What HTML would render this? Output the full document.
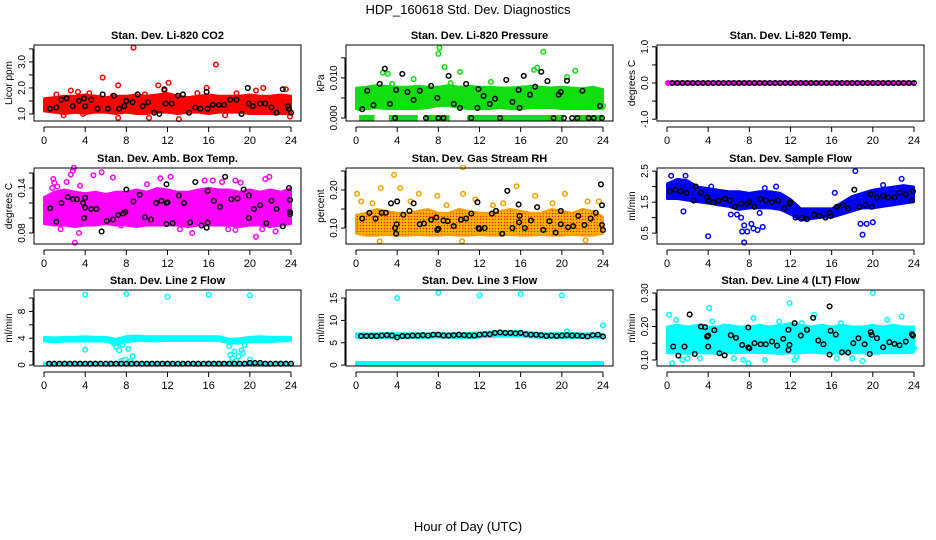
<!DOCTYPE html>
<html><head><meta charset="utf-8">
<style>
html,body{margin:0;padding:0;background:#fff;}
svg{display:block;font-family:"Liberation Sans",sans-serif;}
</style></head>
<body>
<svg id="chart" width="936" height="540" viewBox="0 0 936 540">
<text x="468" y="14" text-anchor="middle" font-size="13">HDP_160618  Std. Dev. Diagnostics</text>
<text x="468" y="531" text-anchor="middle" font-size="13">Hour of Day (UTC)</text>
</svg>
<script>
const bandHours=[0,1,2,3,4,5,6,7,8,9,10,11,12,13,14,15,16,17,18,19,20,21,22,23,24];
const halfHours=[0.5,1,1.5,2,2.5,3,3.5,4,4.5,5,5.5,6,6.5,7,7.5,8,8.5,9,9.5,10,10.5,11,11.5,12,12.5,13,13.5,14,14.5,15,15.5,16,16.5,17,17.5,18,18.5,19,19.5,20,20.5,21,21.5,22,22.5,23,23.5,24];
const xTicks=[0,4,8,12,16,20,24];

// P1 CO2
const co2Low=[1.1,1.05,1.0,1.05,1.0,1.05,1.05,1.0,1.05,1.0,1.0,1.05,1.05,1.0,1.05,1.05,1.0,1.05,1.05,1.05,1.0,1.0,1.0,1.0,1.0];
const co2High=[1.6,1.65,1.7,1.7,1.75,1.7,1.65,1.7,1.7,1.75,1.7,1.75,1.8,1.7,1.65,1.7,1.75,1.7,1.7,1.7,1.75,1.7,1.7,1.75,1.7];
const co2Pts=[[8.7,3.55],[16.7,2.9],[5.7,2.4],[7.2,2.1],[11.1,2.1],[12.1,2.2],[2.6,1.9],[21.3,2.0],[15.8,2.0],[23.5,1.95],[0.3,1.5],[7.2,0.85],[10.2,0.85],[13.1,0.8],[1.9,0.95],[23.9,0.9],[3.8,1.0],[19.2,1.0],[4.4,1.8],[9.8,1.75],[14.9,1.8],[18.7,1.8],[20.6,1.9],[6.7,1.7],[17.6,0.95],[22.5,1.05],[11.7,1.9],[1.2,1.75],[3.3,1.85]];
const co2Black=[[0.6,1.2],[1.2,1.25],[1.7,1.55],[2.2,1.6],[2.8,1.3],[3.4,1.5],[3.9,1.6],[4.0,1.3],[4.6,1.55],[5.2,1.2],[5.7,1.75],[6.2,1.2],[6.8,1.7],[7.3,1.2],[7.8,1.3],[8.0,1.5],[8.6,1.45],[9.1,1.75],[9.6,1.3],[10.1,1.45],[10.7,1.05],[11.2,1.0],[11.7,1.95],[11.8,1.4],[12.4,1.4],[13.0,1.7],[13.5,1.75],[14.1,1.05],[14.7,1.25],[15.2,1.2],[15.8,1.85],[15.9,1.2],[16.4,1.35],[17.0,1.35],[17.5,1.35],[18.1,1.55],[18.7,1.55],[19.2,1.0],[19.8,2.0],[19.9,1.4],[20.3,1.3],[21.0,1.4],[21.5,1.4],[22.1,1.25],[22.6,1.05],[23.2,1.95],[23.7,1.3],[23.8,1.2],[24.0,1.05]];

// P2 Pressure
const presLow=[0.0022,0.0022,0.0025,0.0022,0.0022,0.0022,0.0022,0.0025,0.003,0.003,0.0025,0.0022,0.0022,0.0022,0.0025,0.0022,0.0022,0.0025,0.0025,0.0025,0.0022,0.0022,0.0022,0.0022,0.0022];
const presHigh=[0.0075,0.0078,0.0082,0.008,0.0078,0.0078,0.008,0.0078,0.0078,0.0082,0.0078,0.008,0.0078,0.0078,0.0076,0.0076,0.0078,0.008,0.0078,0.0076,0.0078,0.0076,0.0074,0.0078,0.0072];
const presZeroSegs=[[0.3,1.8],[3.2,6.0],[6.7,9.1],[10.8,20.2],[21.2,24]];
const presPts=[[8.1,0.0175],[8.0,0.016],[18.2,0.0165],[8.6,0.0127],[17.3,0.012],[17.6,0.0125],[21.3,0.0118],[10.1,0.0115],[2.6,0.0113],[3.1,0.011],[5.6,0.0097],[13.1,0.009],[20.5,0.0102],[3.5,0.0085],[9.2,0.0087],[0.3,0.0025],[1.0,0.003],[24,0.003]];
const presBlack=[[0.6,0.0022],[1.1,0.0068],[1.7,0.0032],[2.3,0.0085],[2.8,0.0123],[3.3,0.0035],[3.8,0],[3.9,0.007],[4.5,0.011],[5.0,0.0065],[5.6,0.0045],[6.2,0.0068],[6.8,0],[7.3,0.008],[7.9,0.005],[8.0,0],[8.5,0],[9.0,0.0105],[9.5,0.0035],[10.1,0.0025],[10.7,0.0085],[11.2,0],[11.8,0.0025],[11.9,0.0072],[12.4,0.0055],[13.0,0.0035],[13.5,0.0048],[14.0,0],[14.6,0.0095],[15.2,0.004],[15.8,0.007],[15.9,0.0025],[16.3,0.0105],[16.9,0.0058],[17.4,0.0078],[18.0,0.0115],[18.6,0.0092],[19.2,0],[19.7,0.0058],[19.9,0.0065],[20.2,0],[20.5,0.0093],[21.0,0],[21.5,0],[22.0,0.0068],[22.6,0],[23.1,0],[23.7,0.003],[23.9,0]];

// P3 Li-820 Temp
const tempLow=[-0.04,-0.04,-0.04,-0.04,-0.04,-0.04,-0.04,-0.04,-0.04,-0.04,-0.04,-0.04,-0.04,-0.04,-0.04,-0.04,-0.04,-0.04,-0.04,-0.04,-0.04,-0.04,-0.04,-0.04,-0.04];
const tempHigh=[0.04,0.04,0.04,0.04,0.04,0.04,0.04,0.04,0.04,0.04,0.04,0.04,0.04,0.04,0.04,0.04,0.04,0.04,0.04,0.04,0.04,0.04,0.04,0.04,0.04];
const tempBlackVals=[0,0,0,0,0,0,0,0,0,0,0,0,0,0,0,0,0,0,0,0,0,0,0,0,0,0,0,0,0,0,0,0,0,0,0,0,0,0,0,0,0,0,0,0,0,0,0,0];

// P4 Amb Box Temp
const ambLow=[0.092,0.09,0.09,0.088,0.09,0.09,0.092,0.09,0.09,0.088,0.09,0.09,0.09,0.09,0.088,0.09,0.09,0.09,0.09,0.088,0.09,0.09,0.088,0.09,0.092];
const ambHigh=[0.128,0.135,0.138,0.135,0.133,0.135,0.132,0.135,0.135,0.138,0.135,0.14,0.138,0.135,0.135,0.138,0.14,0.138,0.138,0.135,0.138,0.135,0.138,0.135,0.14];
const ambPts=[[0.9,0.152],[1.0,0.147],[0.8,0.14],[1.3,0.142],[2.6,0.158],[2.8,0.163],[2.9,0.167],[2.2,0.148],[3.0,0.067],[3.5,0.143],[3.4,0.08],[4.8,0.157],[5.6,0.161],[1.6,0.085],[6.7,0.154],[8.6,0.13],[11.3,0.153],[12.3,0.155],[13.2,0.085],[15.6,0.15],[16.4,0.15],[17.3,0.148],[18.6,0.15],[17.9,0.085],[18.6,0.084],[20.6,0.075],[21.2,0.085],[21.9,0.155],[22.5,0.082],[21.5,0.152],[7.5,0.09],[10.0,0.145],[14.4,0.08],[19.1,0.147],[0.3,0.1]];
const ambBlack=[[0.6,0.113],[1.2,0.095],[1.7,0.12],[2.3,0.128],[2.8,0.125],[3.2,0.125],[3.8,0.12],[3.9,0.1],[4.0,0.114],[4.0,0.127],[4.6,0.112],[5.1,0.112],[5.6,0.082],[6.1,0.096],[6.7,0.098],[7.2,0.104],[7.7,0.106],[7.9,0.108],[8.0,0.138],[8.7,0.122],[9.3,0.131],[9.8,0.101],[10.4,0.098],[10.9,0.12],[11.4,0.123],[11.9,0.12],[12.0,0.121],[11.9,0.145],[11.9,0.092],[12.5,0.093],[13.1,0.13],[13.6,0.12],[14.2,0.094],[14.7,0.148],[15.3,0.09],[15.8,0.087],[15.9,0.094],[15.9,0.136],[16.5,0.123],[17.1,0.115],[17.6,0.155],[18.2,0.125],[18.8,0.126],[19.4,0.138],[19.9,0.1],[19.9,0.13],[20.4,0.112],[21.0,0.117],[21.6,0.093],[22.1,0.123],[22.6,0.112],[23.2,0.089],[23.8,0.14],[23.9,0.124],[23.9,0.108],[23.9,0.105]];

// P5 Gas Stream RH
const rhLow=[0.085,0.08,0.08,0.082,0.08,0.08,0.082,0.08,0.08,0.082,0.08,0.08,0.082,0.08,0.08,0.082,0.08,0.08,0.082,0.08,0.08,0.082,0.08,0.08,0.085];
const rhHigh=[0.135,0.14,0.15,0.145,0.14,0.14,0.145,0.15,0.14,0.14,0.15,0.145,0.14,0.14,0.145,0.15,0.145,0.14,0.14,0.15,0.145,0.14,0.15,0.145,0.13];
const rhPts=[[0.1,0.19],[3.7,0.24],[2.4,0.205],[4.3,0.205],[10.4,0.26],[10.4,0.19],[15.6,0.21],[17.4,0.185],[20.3,0.19],[6.1,0.19],[7.9,0.185],[2.3,0.065],[10.3,0.065],[22.3,0.068],[13.3,0.16],[0.5,0.17],[1.6,0.165],[5.3,0.17],[8.8,0.16],[11.6,0.175],[14.3,0.165],[19.1,0.165],[22.5,0.17],[23.6,0.17]];
const rhBlack=[[0.6,0.125],[1.3,0.14],[1.9,0.125],[2.5,0.14],[2.9,0.14],[3.4,0.165],[3.8,0.10],[3.9,0.085],[3.95,0.11],[4.0,0.17],[4.6,0.135],[5.2,0.145],[5.6,0.165],[6.2,0.11],[6.6,0.112],[7.3,0.122],[7.8,0.128],[7.9,0.095],[8.0,0.098],[8.5,0.12],[8.9,0.118],[9.5,0.105],[10.2,0.122],[10.7,0.125],[11.2,0.138],[11.8,0.168],[11.9,0.10],[12.0,0.098],[12.5,0.10],[13.2,0.138],[13.6,0.145],[14.2,0.085],[14.7,0.198],[15.2,0.10],[15.8,0.162],[15.9,0.132],[15.85,0.115],[16.4,0.10],[17.0,0.12],[17.6,0.155],[18.2,0.095],[18.8,0.118],[19.4,0.088],[19.9,0.145],[19.9,0.11],[20.6,0.102],[21.1,0.105],[21.6,0.132],[22.2,0.108],[22.8,0.125],[23.3,0.14],[23.8,0.215],[23.9,0.16],[23.9,0.108],[24,0.095]];

// P6 Sample Flow
const sfLow=[1.6,1.6,1.55,1.5,1.45,1.4,1.35,1.25,1.3,1.3,1.3,1.25,1.1,0.9,0.95,1.0,1.0,1.1,1.2,1.3,1.3,1.35,1.4,1.45,1.5];
const sfHigh=[2.1,2.25,2.2,2.0,1.95,1.9,1.85,1.85,1.8,1.85,1.85,1.8,1.6,1.3,1.3,1.3,1.3,1.5,1.7,1.8,1.9,1.95,2.0,2.05,2.0];
const sfPts=[[4.0,0.4],[7.5,0.2],[7.3,0.55],[7.8,0.55],[8.4,0.65],[8.8,0.6],[8.2,0.8],[9.3,0.7],[7.5,0.75],[18.3,2.5],[19.0,0.45],[19.4,0.8],[18.8,0.8],[20.0,0.85],[1.6,1.2],[16.3,1.8],[6.2,1.1],[6.8,1.1],[7.2,1.0],[9.0,1.15],[10.6,2.0],[9.5,1.95],[22.8,2.25],[21.0,2.05],[0.4,2.35],[1.8,2.35],[4.3,2.0]];
const sfBlack=[[0.3,1.85],[0.8,1.9],[1.3,1.85],[1.9,1.8],[2.6,1.55],[2.8,2.0],[3.3,1.8],[3.9,1.65],[4.0,1.55],[4.5,1.5],[5.0,1.55],[5.6,1.6],[6.1,1.55],[6.6,1.35],[7.2,1.45],[7.8,1.45],[8.0,1.5],[8.5,1.35],[9.1,1.6],[9.6,1.55],[10.2,1.5],[10.8,1.55],[11.4,1.3],[11.9,1.45],[12.0,1.5],[12.5,1.0],[13.1,1.0],[13.6,0.95],[14.3,1.1],[14.8,1.05],[15.4,1.0],[15.8,1.15],[15.9,1.05],[16.5,1.35],[17.1,1.4],[17.6,1.3],[18.2,1.9],[18.7,1.35],[19.3,1.4],[19.8,1.75],[19.9,1.35],[20.4,1.65],[21.0,1.7],[21.5,1.65],[22.1,1.65],[22.6,1.8],[23.2,1.75],[23.8,1.55],[23.9,1.85]];

// P7 Line 2 Flow
const l2Low=[3.5,3.4,3.5,3.5,3.5,3.5,3.5,3.0,3.4,3.6,3.6,3.5,3.6,3.6,3.6,3.6,3.6,3.6,3.2,3.2,3.4,3.4,3.4,3.5,3.6];
const l2High=[4.2,4.1,4.2,4.2,4.3,4.2,4.2,3.9,4.3,4.4,4.3,4.3,4.3,4.3,4.3,4.3,4.3,4.3,3.9,4.0,4.2,4.3,4.2,4.2,4.2];
const l2ZeroLow=[0,0,0,0,0,0,0,0,0,0,0,0,0,0,0,0,0,0,0,0,0,0,0,0,0];
const l2ZeroHigh=[0.35,0.35,0.35,0.35,0.35,0.35,0.35,0.35,0.35,0.35,0.35,0.35,0.35,0.35,0.35,0.35,0.35,0.35,0.35,0.35,0.35,0.35,0.35,0.35,0.35];
const l2Pts=[[4,10.5],[8,10.6],[12,10.2],[16,10.5],[20,10.4],[4,2.3],[7.0,2.7],[7.3,2.2],[7.6,3.0],[7.9,0.8],[8.0,4.0],[8.2,2.4],[8.6,1.3],[18.1,1.5],[18.3,1.0],[18.5,2.0],[18.9,1.3],[19.2,2.2],[19.5,3.0],[19.3,1.8],[18.0,2.8],[20.0,0.8],[7.5,0.6],[8.4,0.6],[6.8,3.2],[18.7,0.6]];
const l2BlackVals=[0.2,0.2,0.2,0.2,0.2,0.2,0.2,0.2,0.2,0.2,0.2,0.2,0.2,0.2,0.2,0.2,0.2,0.2,0.2,0.2,0.2,0.2,0.2,0.2,0.2,0.2,0.2,0.2,0.2,0.2,0.2,0.2,0.2,0.2,0.2,0.2,0.2,0.2,0.2,0.3,0.3,0.3,0.2,0.2,0.2,0.2,0.2,0.2];

// P8 Line 3 Flow
const l3Low=[6.1,6.1,6.1,6.1,6.0,6.1,6.1,6.1,6.2,6.1,6.1,6.1,6.2,6.3,6.4,6.4,6.4,6.2,6.1,6.1,6.1,6.1,6.1,6.1,6.0];
const l3High=[7.1,7.1,7.1,7.2,7.1,7.1,7.1,7.1,7.2,7.1,7.1,7.2,7.3,7.5,7.6,7.6,7.6,7.3,7.1,7.1,7.2,7.2,7.1,7.1,7.0];
const l3ZeroLow=[0,0,0,0,0,0,0,0,0,0,0,0,0,0,0,0,0,0,0,0,0,0,0,0,0];
const l3ZeroHigh=[0.7,0.7,0.7,0.7,0.7,0.7,0.7,0.7,0.7,0.7,0.7,0.7,0.7,0.7,0.7,0.7,0.7,0.7,0.7,0.7,0.7,0.7,0.7,0.7,0.7];
const l3Pts=[[4,15],[8,16.2],[12,15.6],[16,15.9],[20,15.6],[24,8.9],[20.5,7.6]];
const l3BlackVals=[6.5,6.5,6.5,6.5,6.6,6.7,6.6,6.2,6.5,6.5,6.6,6.6,6.7,6.6,6.8,6.8,6.6,6.6,6.7,6.8,6.7,6.6,6.6,6.8,6.9,6.9,7.2,7.3,7.2,7.2,7.1,7.2,6.9,6.8,6.8,6.7,6.5,6.6,6.5,6.6,6.7,6.6,6.6,6.5,6.4,6.7,6.8,6.4];

// P9 Line 4 (LT) Flow
const l4Low=[0.12,0.12,0.118,0.12,0.12,0.118,0.12,0.12,0.122,0.12,0.12,0.118,0.12,0.12,0.122,0.12,0.118,0.12,0.12,0.12,0.118,0.12,0.12,0.12,0.122];
const l4High=[0.2,0.205,0.2,0.205,0.2,0.2,0.205,0.2,0.2,0.205,0.2,0.205,0.21,0.205,0.2,0.205,0.2,0.205,0.2,0.2,0.205,0.2,0.205,0.2,0.2];
const l4Pts=[[0.2,0.235],[0.5,0.09],[0.9,0.22],[1.5,0.1],[2.0,0.105],[4.1,0.255],[4.4,0.215],[6.5,0.105],[7.4,0.1],[7.9,0.09],[8.4,0.225],[10.9,0.215],[11.9,0.27],[12.4,0.1],[12.6,0.11],[13.1,0.21],[14.3,0.235],[16.5,0.105],[18.0,0.105],[19.0,0.097],[20.0,0.3],[21.4,0.22],[22.8,0.23],[24.0,0.135],[22.3,0.17],[9.5,0.1],[16.9,0.21],[5.5,0.2],[3.2,0.105]];
const l4Black=[[0.6,0.14],[1.1,0.113],[1.7,0.14],[2.2,0.236],[2.7,0.118],[3.3,0.2],[3.7,0.198],[3.9,0.17],[4.0,0.173],[4.0,0.14],[4.6,0.189],[5.1,0.12],[5.6,0.114],[6.2,0.174],[6.7,0.166],[7.3,0.145],[7.9,0.197],[7.9,0.138],[8.0,0.135],[8.5,0.15],[9.1,0.147],[9.6,0.147],[10.2,0.155],[10.7,0.143],[11.3,0.163],[11.8,0.13],[11.8,0.19],[11.9,0.145],[12.4,0.21],[13.0,0.173],[13.6,0.19],[14.2,0.226],[14.7,0.158],[15.2,0.147],[15.8,0.116],[15.8,0.26],[15.9,0.187],[16.4,0.176],[17.0,0.123],[17.6,0.122],[18.1,0.15],[18.6,0.165],[19.2,0.147],[19.7,0.118],[19.8,0.183],[19.9,0.175],[20.4,0.165],[21.0,0.138],[21.6,0.153],[22.1,0.148],[22.6,0.144],[23.2,0.155],[23.8,0.177],[23.9,0.173]];

function zipHalf(vals){return halfHours.map((h,i)=>[h,vals[i]]);}

const NS="http://www.w3.org/2000/svg";
const svg=document.getElementById('chart');
function mk(tag,attrs,parent){const e=document.createElementNS(NS,tag);for(const k in attrs)e.setAttribute(k,attrs[k]);(parent||svg).appendChild(e);return e;}

const panels=[
 {key:'co2',title:'Stan. Dev. Li-820 CO2',ylab:'Licor ppm',col:0,row:0,ymin:0.73,ymax:3.65,ticks:[1,1.5,2,2.5,3,3.5],labels:[1,2,3],dec:1,color:'#ff0000',bands:[[co2Low,co2High]],pts:co2Pts,black:co2Black},
 {key:'pressure',title:'Stan. Dev. Li-820 Pressure',ylab:'kPa',col:1,row:0,ymin:-0.00075,ymax:0.0182,ticks:[0,0.005,0.01,0.015],labels:[0,0.01],dec:3,color:'#11dd11',bands:[[presLow,presHigh]],segs:presZeroSegs,pts:presPts,black:presBlack},
 {key:'li820-temp',title:'Stan. Dev. Li-820 Temp.',ylab:'degrees C',col:2,row:0,ymin:-1.05,ymax:1.05,ticks:[-1,-0.5,0,0.5,1],labels:[-1,0,1],dec:1,color:'#ff00ff',bands:[[tempLow,tempHigh]],pts:[[0.1,0]],black:zipHalf(tempBlackVals)},
 {key:'amb-box-temp',title:'Stan. Dev. Amb. Box Temp.',ylab:'degrees C',col:0,row:1,ymin:0.0653,ymax:0.1667,ticks:[0.08,0.1,0.12,0.14,0.16],labels:[0.08,0.14],dec:2,color:'#ff00ff',bands:[[ambLow,ambHigh]],pts:ambPts,black:ambBlack},
 {key:'gas-stream-rh',title:'Stan. Dev. Gas Stream RH',ylab:'percent',col:1,row:1,ymin:0.058,ymax:0.258,ticks:[0.1,0.15,0.2,0.25],labels:[0.1,0.2],dec:2,color:'#f5a000',bandFill:'url(#rhPat)',bands:[[rhLow,rhHigh]],pts:rhPts,black:rhBlack},
 {key:'sample-flow',title:'Stan. Dev. Sample Flow',ylab:'ml/min',col:2,row:1,ymin:0.15,ymax:2.6,ticks:[0.5,1,1.5,2,2.5],labels:[0.5,1.5,2.5],dec:1,color:'#0000ff',bands:[[sfLow,sfHigh]],pts:sfPts,black:sfBlack},
 {key:'line2-flow',title:'Stan. Dev. Line 2 Flow',ylab:'ml/min',col:0,row:2,ymin:-0.15,ymax:11.2,ticks:[0,2,4,6,8,10],labels:[0,4,8],dec:0,color:'#00ffff',bands:[[l2Low,l2High],[l2ZeroLow,l2ZeroHigh]],pts:l2Pts,black:zipHalf(l2BlackVals)},
 {key:'line3-flow',title:'Stan. Dev. Line 3 Flow',ylab:'ml/min',col:1,row:2,ymin:-0.2,ymax:16.8,ticks:[0,5,10,15],labels:[0,5,10,15],dec:0,color:'#00ffff',bands:[[l3Low,l3High],[l3ZeroLow,l3ZeroHigh]],pts:l3Pts,black:zipHalf(l3BlackVals)},
 {key:'line4-flow',title:'Stan. Dev. Line 4 (LT) Flow',ylab:'ml/min',col:2,row:2,ymin:0.082,ymax:0.309,ticks:[0.1,0.15,0.2,0.25,0.3],labels:[0.1,0.2,0.3],dec:2,color:'#00ffff',bands:[[l4Low,l4High]],pts:l4Pts,black:l4Black}
];

const defs=mk('defs',{});
const pat=mk('pattern',{id:'rhPat',width:3,height:3,patternUnits:'userSpaceOnUse'},defs);
mk('rect',{x:0,y:0,width:3,height:3,fill:'#f5a000'},pat);
mk('rect',{x:0,y:0,width:1,height:1,fill:'#ff2000'},pat);
mk('rect',{x:1.5,y:1.5,width:1,height:1,fill:'#ffee00'},pat);

const colLeft=[34,346,657], rowTop=[45,168,290], BW=267, BH=76;

panels.forEach((p,pi)=>{
  const L=colLeft[p.col], T=rowTop[p.row], B=T+BH;
  const X0=L+10, XW=247;
  const sx=h=>X0+h/24*XW;
  const sy=v=>B-(v-p.ymin)/(p.ymax-p.ymin)*BH;
  const g=mk('g',{});
  
  
  const cp=mk('clipPath',{id:'clip'+pi},defs);
  mk('rect',{x:L,y:T-3,width:BW,height:BH+6},cp);
  const plot=mk('g',{'clip-path':'url(#clip'+pi+')'},g);
  p.bands.forEach((bd,bi)=>{
    const lo=bd[0],hi=bd[1];
    const pts=bandHours.map((h,i)=>sx(h)+','+sy(hi[i])).concat(bandHours.slice().reverse().map((h,j)=>{const i=bandHours.length-1-j;return sx(h)+','+sy(lo[i]);}));
    const poly=mk('polygon',{points:pts.join(' '),fill:p.bandFill||p.color,stroke:p.color,'stroke-width':2,'stroke-linejoin':'round'},plot);
    
    
  });
  (p.segs||[]).forEach(s=>{
    const r=mk('rect',{x:sx(s[0]),y:sy(0)-3,width:sx(s[1])-sx(s[0]),height:6,fill:p.color},plot);
    
    
  });
  p.pts.forEach(d=>{
    const c=mk('circle',{cx:sx(d[0]),cy:sy(d[1]),r:2.3,fill:'none',stroke:p.color,'stroke-width':1.5},plot);
    
    
  });
  p.black.forEach(d=>{
    const c=mk('circle',{cx:sx(d[0]),cy:sy(d[1]),r:2.3,fill:'none',stroke:'#000','stroke-width':1.5},plot);
    
    
  });
  const box=mk('rect',{x:L,y:T,width:BW,height:BH,fill:'none',stroke:'#000','stroke-width':1},g);
  
  
  const t=mk('text',{x:L+BW/2,y:T-6,'text-anchor':'middle','font-size':11,'font-weight':'bold'},g);
  t.textContent=p.title;
  
  
  const AY=B+6;
  const xl=mk('line',{x1:sx(0),x2:sx(24),y1:AY,y2:AY,stroke:'#000'},g);
  
  
  xTicks.forEach(h=>{
    mk('line',{x1:sx(h),x2:sx(h),y1:AY,y2:AY+5,stroke:'#000'},g);
    const lt=mk('text',{x:sx(h),y:AY+17,'text-anchor':'middle','font-size':11},g);
    lt.textContent=h;
    
    
  });
  const AX=L-1;
  const yl=mk('line',{x1:AX,x2:AX,y1:sy(p.ticks[0]),y2:sy(p.ticks[p.ticks.length-1]),stroke:'#000'},g);
  
  
  p.ticks.forEach(v=>mk('line',{x1:AX-4,x2:AX,y1:sy(v),y2:sy(v),stroke:'#000'},g));
  p.labels.forEach(v=>{
    const yy=sy(v);
    const lt=mk('text',{x:AX-8,y:yy,'text-anchor':'middle','font-size':10,transform:'rotate(-90 '+(AX-8)+' '+yy+')'},g);
    lt.textContent=v.toFixed(p.dec);
    
    
  });
  const yt=mk('text',{x:L-22,y:T+BH/2,'text-anchor':'middle','font-size':10,transform:'rotate(-90 '+(L-22)+' '+(T+BH/2)+')'},g);
  yt.textContent=p.ylab;
  
  
});
</script>
</body></html>
